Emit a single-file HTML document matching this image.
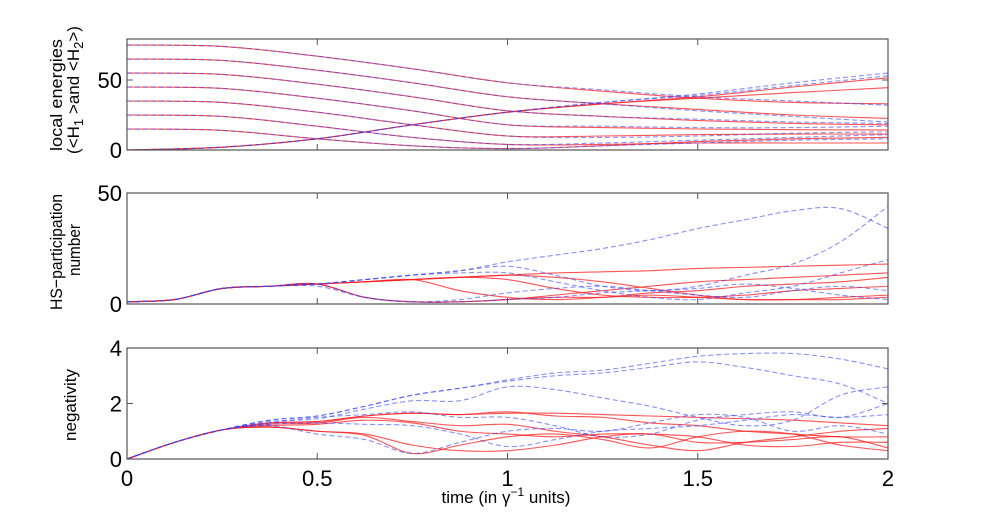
<!DOCTYPE html>
<html><head><meta charset="utf-8"><style>
body{margin:0;background:#fff}
svg{display:block;font-family:"Liberation Sans",sans-serif}
</style></head><body>
<svg id="c" width="981" height="517" xmlns="http://www.w3.org/2000/svg"></svg>
<script>
const xTicks=[0,0.5,1,1.5,2];
const xTickLabels=["0","0.5","1","1.5","2"];
// Panel 1: local energies, t step 0.25
const e1Red=[[75,74,67,58,48,42,37,34,33],[65,64,57,48,38,33,29,25,22.6],[55,54,47,38,28,24,21,19,18],[45,44,37,28,18,16,15,14.5,14.3],[35,34,27,18,10,10,11,11.4,11.4],[25,24,17,9,4,4,5,5,5],[15,14,8,3,1,3,6,8,9],[0,2,8,18,27,33,38,45,51.6],[0,2,8,18,27,33,37,41,44.5]];
const e1Blue=[[75,74,67,58,48,43,38,35,32],[65,64,57,48,38,33,28,24,20],[55,54,47,38,28,24,22,20,19],[45,44,37,28,18,17,16,16,17],[35,34,27,18,10,9,10,12,13],[25,24,17,9,4,5,7,9,11],[15,14,8,3,1,3,5,7,8],[0,2,8,18,27,34,40,48,55],[0,2,8,18,27,34,39,46,53]];
// Panel 2: participation number, t step 0.125
const p2Red=[[1,2,7,8,9,10,11,12,13,14,14.5,15,16,16.5,17,17.5,18],[1,2,7,8,9,3,1,1,2,4,6,8,10,11,12,13,14],[1,2,7,8,9,10,11,6,3,2,3,5,6,8,9,10,12],[1,2,7,8,9,10,11,12,11,7,4,3,3,4,6,7,8],[1,2,7,8,9,10,11,12,13,12,10,7,4,2,2,3,4],[1,2,7,8,9,3,1,1,2,3,3,4,3,2,2,2,3]];
const p2Blue=[[1,2,7,8,9,11,13,15,19,22,25,29,34,38,42,43,34],[1,2,7,8,9,11,13,15,17,13,8,6,8,13,18,28,44],[1,2,7,8,9,11,13,14,14,10,6,3,2,5,8,14,20],[1,2,7,8,9,3,1,2,5,7,8,6,4,3,6,8,6],[1,2,7,8,8,3,1,1,2,3,5,6,7,9,7,4,2]];
// Panel 3: negativity, t step 0.125
const n3Red=[[0,.6,1.05,1.3,1.35,1.55,1.65,1.6,1.65,1.65,1.6,1.55,1.5,1.45,1.4,1.3,1.2],[0,.6,1.05,1.3,1.35,1.55,1.65,1.6,1.7,1.55,1.5,1.3,1.2,1.0,0.9,0.8,0.8],[0,.6,1.05,1.25,1.3,1.5,1.35,1.2,1.25,1.0,0.8,0.5,0.3,0.6,0.8,1.0,1.1],[0,.6,1.05,1.2,1.25,1.4,1.3,1.0,0.9,0.8,0.9,0.9,0.8,0.5,0.45,0.6,0.6],[0,.6,1.05,1.15,1.0,0.85,0.2,0.5,0.8,0.9,0.7,0.4,0.8,1.0,0.9,0.5,0.3],[0,.6,1.05,1.15,1.0,0.9,0.5,0.3,0.3,0.5,0.8,0.9,0.6,0.6,0.7,0.8,0.4]];
const n3Blue=[[0,.6,1.05,1.4,1.55,1.9,2.3,2.55,2.85,3.1,3.2,3.45,3.7,3.8,3.8,3.6,3.25],[0,.6,1.05,1.4,1.55,1.9,2.3,2.55,2.8,3.0,3.1,3.3,3.5,3.3,3.0,2.7,2.0],[0,.6,1.05,1.35,1.45,1.8,2.1,2.1,2.6,2.5,2.2,1.9,1.5,1.2,1.4,2.3,2.6],[0,.6,1.05,1.3,1.5,1.6,1.7,1.5,1.5,1.2,0.8,0.9,1.4,1.6,1.7,1.5,2.0],[0,.6,1.05,1.25,1.3,1.25,1.2,0.9,0.45,0.7,1.0,1.1,1.2,1.4,1.6,1.5,1.6],[0,.6,1.05,1.2,0.9,0.7,0.2,0.6,1.0,1.1,1.0,1.3,1.6,1.5,1.0,1.2,0.9]];

const svg=document.getElementById('c');
const NS='http://www.w3.org/2000/svg';
function mk(tag,attrs,parent){const e=document.createElementNS(NS,tag);for(const k in attrs)e.setAttribute(k,attrs[k]);(parent||svg).appendChild(e);return e;}
const X0=127,X1=888;
const xs=t=>X0+(X1-X0)*t/2;
function path(vals,ys){
  const n=vals.length,pts=vals.map((v,i)=>[xs(2*i/(n-1)),ys(v)]);
  let d='M'+pts[0][0]+','+pts[0][1];
  for(let i=0;i<n-1;i++){const p0=pts[Math.max(0,i-1)],p1=pts[i],p2=pts[i+1],p3=pts[Math.min(n-1,i+2)];
    const c1=[p1[0]+(p2[0]-p0[0])/6,p1[1]+(p2[1]-p0[1])/6],c2=[p2[0]-(p3[0]-p1[0])/6,p2[1]-(p3[1]-p1[1])/6];
    d+=' C'+c1+' '+c2+' '+p2;}
  return d;
}
function panel(name,top,bot,ymin,ymax,yt,ytl,reds,blues,showX){
  const ys=v=>bot-(bot-top)*(v-ymin)/(ymax-ymin);
  const g=mk('g',{});
  
  
  const cp=mk('clipPath',{id:'cp'+name},g);mk('rect',{x:X0,y:top,width:X1-X0,height:bot-top},cp);
  const lg=mk('g',{'clip-path':'url(#cp'+name+')'},g);
  reds.forEach((s,i)=>{const p=mk('path',{d:path(s,ys),fill:'none',stroke:'#ff1a1a','stroke-width':1.1,'stroke-opacity':0.75},lg);
    
    });
  blues.forEach((s,i)=>{const p=mk('path',{d:path(s,ys),fill:'none',stroke:'#3344ff','stroke-width':1.1,'stroke-opacity':0.6,'stroke-dasharray':'5,3'},lg);
    
    });
  const r=mk('rect',{x:X0,y:top,width:X1-X0,height:bot-top,fill:'none',stroke:'#555','stroke-width':1.2},g);
  
  
  xTicks.forEach((t,i)=>{mk('line',{x1:xs(t),x2:xs(t),y1:bot,y2:bot-6,stroke:'#555'},g);mk('line',{x1:xs(t),x2:xs(t),y1:top,y2:top+6,stroke:'#555'},g);
    if(showX){const tx=mk('text',{x:xs(t),y:bot+27,'font-size':22,'text-anchor':'middle'},g);tx.textContent=xTickLabels[i];
      
      }});
  yt.forEach((v,i)=>{mk('line',{x1:X0,x2:X0+6,y1:ys(v),y2:ys(v),stroke:'#555'},g);mk('line',{x1:X1,x2:X1-6,y1:ys(v),y2:ys(v),stroke:'#555'},g);
    const tx=mk('text',{x:X0-5,y:ys(v)+8,'font-size':22,'text-anchor':'end'},g);tx.textContent=ytl[i];
    
    });
}
panel('energies',39,150,0,79.3,[0,50],["0","50"],e1Red,e1Blue,false);
panel('participation',193,304,0,50,[0,50],["0","50"],p2Red,p2Blue,false);
panel('negativity',348,459,0,4,[0,2,4],["0","2","4"],n3Red,n3Blue,true);
</script>
<script>
(function(){
const svg=document.getElementById('c'),NS='http://www.w3.org/2000/svg';
function lab(name,x,y,txt,html,len){const t=document.createElementNS(NS,'text');t.setAttribute('transform','translate('+x+','+y+') rotate(-90)');t.setAttribute('text-anchor','middle');t.setAttribute('font-size','17');
 if(html)t.innerHTML=html;else t.textContent=txt;
 if(len){t.setAttribute('textLength',len);t.setAttribute('lengthAdjust','spacingAndGlyphs');}
 
 
 svg.appendChild(t);}
lab('y-axis-title-energies-line1',62,95,'local energies',null,112);
lab('y-axis-title-energies-line2',79,90,'',"(&lt;H<tspan font-size='13' dy='4'>1</tspan><tspan dy='-4'> &gt;and &lt;H</tspan><tspan font-size='13' dy='4'>2</tspan><tspan dy='-4'>&gt;)</tspan>");
lab('y-axis-title-participation-line1',62,252,'HS−participation',null,116);
lab('y-axis-title-participation-line2',80,250,'number',null,52);
lab('y-axis-title-negativity',76,405,'negativity',null,72);
const t=document.createElementNS(NS,'text');t.setAttribute('x','506');t.setAttribute('y','503');t.setAttribute('text-anchor','middle');t.setAttribute('font-size','17');
t.innerHTML="time (in γ<tspan font-size='12' dy='-7'>−1</tspan><tspan dy='7'> units)</tspan>";


svg.appendChild(t);
})();
</script>
</body></html>
